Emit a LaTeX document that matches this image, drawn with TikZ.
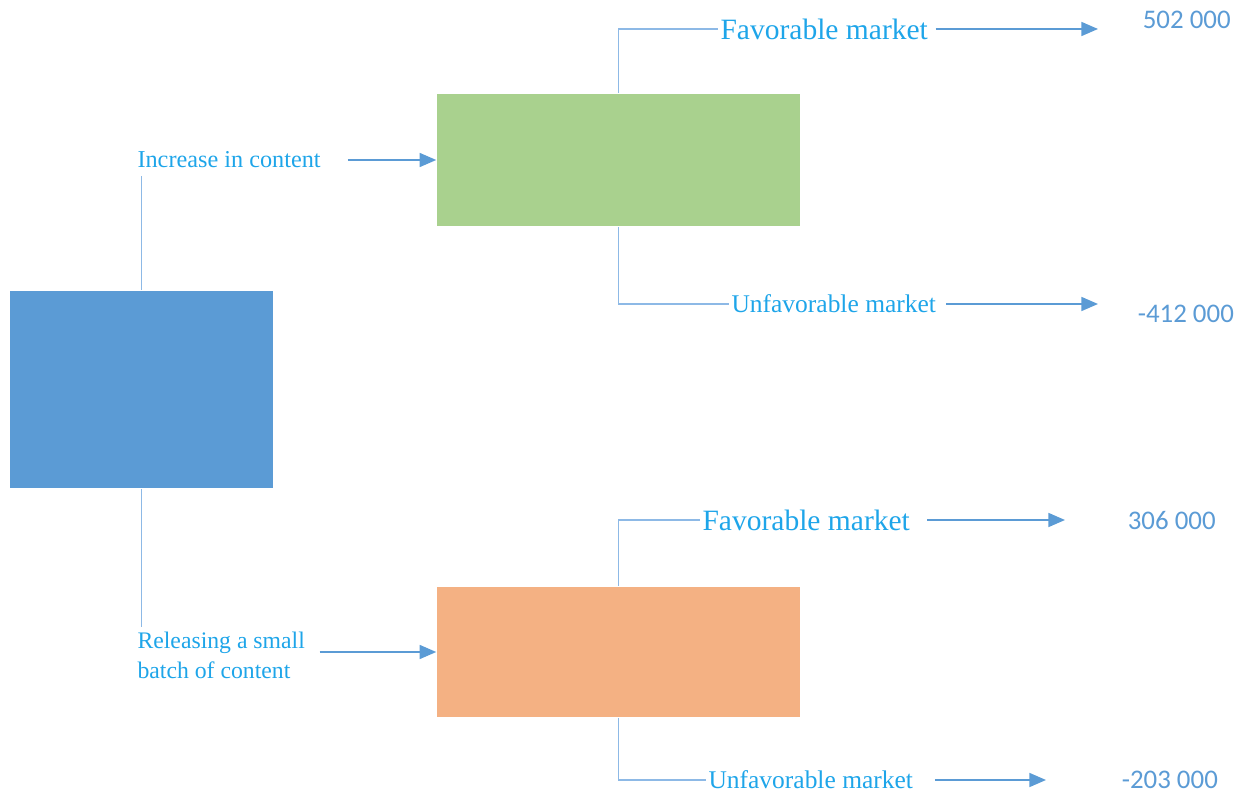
\documentclass[tikz,border=0pt]{standalone}
\usepackage{fontspec}
\setmainfont{Liberation Serif}
\newfontfamily\numfont{Carlito}
\usetikzlibrary{arrows.meta,positioning}
\definecolor{rootblue}{HTML}{5B9BD5}
\definecolor{upgreen}{HTML}{A9D18E}
\definecolor{loworange}{HTML}{F4B183}
\definecolor{linkblue}{HTML}{8DB9E6}
\definecolor{arrowblue}{HTML}{5B9BD5}
\definecolor{textblue}{HTML}{1EA5E9}
\definecolor{numblue}{HTML}{5B9BD5}

\begin{document}
\begin{tikzpicture}[
  x=0.02cm, y=-0.02cm,
  >={Triangle[length=9.5pt,width=8pt]},
  line width=0.9pt,
  box/.style={draw=none, minimum width=7.26cm, minimum height=2.6cm, inner sep=0pt},
  branch/.style={draw=linkblue, line width=0.9pt},
  flow/.style={->, draw=arrowblue, line width=0.9pt},
  choice/.style={text=textblue, inner sep=1pt, anchor=west},
  value/.style={text=numblue, font=\numfont\fontsize{15.3}{18}\selectfont, anchor=west, inner sep=0pt}
]
  \useasboundingbox (0,0) rectangle (1247,793);

  % decision and chance boxes
  \node[box, fill=rootblue, minimum width=5.26cm, minimum height=3.94cm] (root) at (141.5,389.5) {};
  \node[box, fill=upgreen, minimum height=2.64cm] (grow) at (618.5,160) {};
  \node[box, fill=loworange] (batch) at (618.5,652) {};

  % alternatives
  \node[choice, font=\fontsize{13.8}{17}\selectfont] (inc) at (135,160) {Increase in content};
  \node[choice, font=\fontsize{13.5}{17}\selectfont, align=left] (rel) at (135,655) {Releasing a small\\batch of content};
  \draw[branch, shorten >=3pt] (root.north) -- (root.north |- inc.south);
  \draw[branch, shorten >=1pt] (root.south) -- (root.south |- rel.north);
  \draw[flow, shorten <=14pt] (inc.east) -- (grow.west);
  \draw[flow, shorten <=7pt] (rel.east |- batch.west) -- (batch.west);

  % market outcomes
  \node[choice, font=\fontsize{16.8}{20}\selectfont] (favA) at (718,29) {Favorable market};
  \node[choice, font=\fontsize{14.5}{17}\selectfont] (unfA) at (729,304) {Unfavorable market};
  \node[choice, font=\fontsize{16.8}{20}\selectfont] (favB) at (700,520) {Favorable market};
  \node[choice, font=\fontsize{14.5}{17}\selectfont] (unfB) at (706,780) {Unfavorable market};
  \draw[branch] (grow.north) |- (favA.west);
  \draw[branch] (grow.south) |- (unfA.west);
  \draw[branch] (batch.north) |- (favB.west);
  \draw[branch] (batch.south) |- (unfB.west);

  \coordinate (tipA) at (1098,29);
  \coordinate (tipB) at (1098,304);
  \coordinate (tipC) at (1065,520);
  \coordinate (tipD) at (1046,780);
  \draw[flow, shorten <=3pt] (favA.east) -- (tipA);
  \draw[flow, shorten <=4.5pt] (unfA.east) -- (tipB);
  \draw[flow, shorten <=8.5pt] (favB.east) -- (tipC);
  \draw[flow, shorten <=11pt] (unfB.east) -- (tipD);

  % payoffs
  \node[value] (valA) at (1142,20) {502 000};
  \node[value] (valB) at (1137,314) {-412 000};
  \node[value] (valC) at (1127,521) {306 000};
  \node[value] (valD) at (1121,780) {-203 000};
\end{tikzpicture}
\end{document}
